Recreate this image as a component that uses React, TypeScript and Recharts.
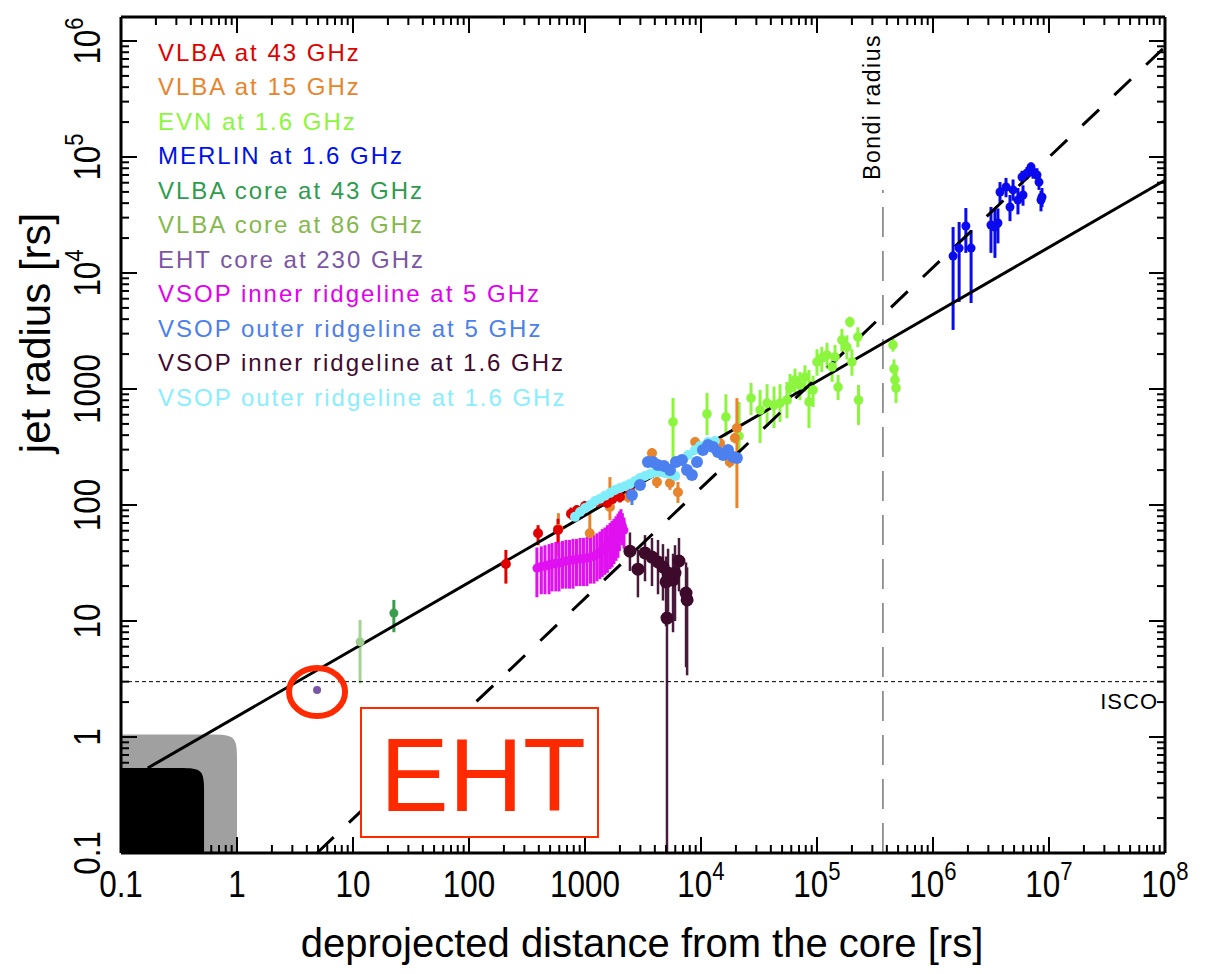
import React from 'react';
import {
  ScatterChart,
  Scatter,
  XAxis,
  YAxis,
  ErrorBar,
  ReferenceLine,
  ReferenceArea,
  ReferenceDot,
} from 'recharts';

// each point: [deprojected distance (rs), jet radius (rs), bar bottom, bar top]
type Pt = number[];

const vlba43: Pt[] = [
  [208, 31, 21, 41], [394, 57, 45, 67], [585, 61, 46, 76], [757, 84, 75, 95],
  [850, 90, 80, 100], [1000, 98, 90, 108], [1295, 106, 96, 117], [1550, 104, 93, 116],
  [1720, 112, 100, 124], [2000, 117, 105, 130], [2440, 132, 118, 147],
];

const vlba15: Pt[] = [
  [590, 62, 36, 85], [1100, 57, 50, 85], [1640, 96, 74, 174], [2350, 117, 105, 130],
  [2860, 164, 150, 180], [3780, 280, 250, 310], [4170, 158, 140, 175], [5400, 155, 135, 175],
  [6330, 129, 104, 158], [8900, 349, 320, 380], [12700, 342, 310, 380], [14600, 341, 310, 380],
  [17700, 235, 210, 260], [19600, 378, 340, 420], [20400, 461, 94, 835],
];

const evn16: Pt[] = [
  [5740, 520, 230, 836], [11270, 609, 401, 925], [16400, 574, 390, 900], [21300, 393, 281, 773],
  [27000, 836, 597, 1127], [32300, 659, 342, 980], [37100, 757, 480, 1100], [42600, 728, 460, 1050],
  [48000, 757, 520, 1100], [55100, 804, 560, 1150], [58500, 1020, 750, 1350], [64600, 1196, 900, 1500],
  [71300, 1082, 800, 1400], [78800, 1268, 950, 1600], [85300, 773, 461, 1459], [92500, 980, 700, 1300],
  [100000, 1710, 1300, 2200], [110000, 1850, 1400, 2300], [122000, 1960, 1500, 2500],
  [135000, 1550, 1150, 2000], [143000, 1890, 1450, 2400], [152000, 1040, 804, 1320],
  [164000, 2640, 2100, 3300], [181000, 2300, 1800, 2900], [192000, 3780, 3400, 4200],
  [200000, 1710, 1300, 2200], [225000, 2810, 2300, 3400], [228000, 804, 490, 1082],
  [452000, 2400, 2100, 2700], [461000, 1490, 1200, 1800], [470000, 1196, 950, 1500],
  [480000, 1020, 760, 1400],
];

const merlin16: Pt[] = [
  [1.49e6, 14000, 3230, 24900], [1.68e6, 16400, 5620, 27500], [1.92e6, 25400, 14900, 36300],
  [2.13e6, 16400, 5510, 23500], [3.16e6, 25900, 14900, 37100], [3.42e6, 24900, 13500, 36000],
  [3.63e6, 27000, 18000, 36000], [3.78e6, 49900, 40100, 60800], [4.26e6, 55100, 45000, 66000],
  [4.61e6, 37100, 28000, 47000], [4.9e6, 52000, 42000, 64000], [5.4e6, 42600, 32000, 54000],
  [5.97e6, 47000, 38000, 57000], [5.85e6, 67300, 58000, 76000], [6.46e6, 72800, 64000, 82000],
  [7.0e6, 82000, 74000, 90000], [7.28e6, 74300, 65000, 83000], [7.88e6, 70000, 60000, 80000],
  [8.2e6, 60800, 52000, 70000], [8.53e6, 42600, 34000, 51000], [8.7e6, 45200, 37000, 54000],
];

const core43: Pt[] = [[22.5, 11.7, 8.0, 15.2]];
const core86: Pt[] = [[11.5, 6.6, 2.9, 10.2]];
const eht230: Pt[] = [[4.9, 2.54, 2.54, 2.54]];

const vsopIn5: Pt[] = [
  [385, 28.6, 16, 43], [420, 29.5, 17, 44], [452, 29.8, 17, 45], [490, 30.5, 17, 46],
  [520, 31, 18, 47], [560, 31.5, 18, 48], [597, 31.6, 18, 48], [640, 32.3, 19, 49],
  [686, 32.9, 19, 50], [735, 33.2, 19, 50], [788, 33.6, 19, 51], [845, 34, 20, 51],
  [906, 34.2, 20, 52], [970, 34.6, 20, 52], [1040, 34.9, 20, 53], [1115, 35.5, 21, 54],
  [1196, 36.3, 21, 55], [1270, 37.8, 22, 57], [1346, 39.3, 23, 59], [1410, 41, 24, 62],
  [1486, 42.6, 25, 64], [1560, 44.8, 26, 67], [1643, 47, 28, 70], [1710, 49.5, 29, 73],
  [1778, 52, 31, 76], [1850, 55, 33, 80], [1923, 58.5, 35, 84], [1980, 64, 40, 88],
  [2042, 71, 48, 92], [2100, 66, 45, 85], [2168, 60.8, 42, 78],
];

const vsopOut5: Pt[] = [
  [2540, 122, 100, 140], [2980, 149, 135, 165], [3490, 235, 215, 255], [3850, 235, 215, 255],
  [4250, 221, 200, 240], [4800, 217, 195, 240], [5400, 200, 180, 220], [6080, 235, 215, 255],
  [6850, 244, 220, 265], [7570, 200, 180, 220], [8350, 181, 165, 200], [9240, 235, 215, 255],
  [10400, 298, 270, 325], [11500, 329, 300, 355], [12700, 316, 290, 345], [14000, 286, 260, 315],
  [15500, 270, 245, 295], [17100, 298, 270, 325], [18900, 259, 235, 285], [20400, 254, 230, 280],
];

const vsopIn16: Pt[] = [
  [2440, 40, 27, 58], [2860, 28, 16, 41], [3290, 38.6, 22, 55], [3780, 35.6, 20, 52],
  [4260, 32.3, 17, 50], [4700, 29.2, 15, 46], [5200, 25.9, 12, 42], [5000, 21.7, 9, 36],
  [5740, 22.6, 8, 38], [5970, 25.9, 10, 45], [6460, 32.9, 18, 52], [5090, 10.6, 0.1, 35],
  [7430, 17.4, 4, 32], [7590, 15.2, 3.4, 29],
];

const vsopOut16: Pt[] = [
  [820, 79, 72, 86], [906, 87, 79, 95], [1000, 94, 86, 103], [1104, 100, 91, 110],
  [1219, 108, 98, 118], [1346, 113, 103, 124], [1486, 120, 109, 131], [1643, 127, 116, 139],
  [1814, 135, 123, 148], [2004, 140, 127, 153], [2213, 145, 132, 159], [2443, 152, 138, 166],
  [2698, 161, 146, 176], [2979, 171, 156, 187], [3289, 178, 162, 195], [3631, 185, 168, 202],
  [4010, 192, 175, 210], [4430, 192, 175, 210], [4895, 189, 172, 207], [5400, 185, 168, 202],
  [6000, 178, 162, 195], [7730, 270, 245, 295], [8870, 298, 272, 325], [9800, 323, 295, 352],
  [11500, 349, 318, 380], [13200, 356, 325, 388],
];

// model lines, read at their two ends
const parabolicFit = [{ x: 0.17, y: 0.54 }, { x: 1e8, y: 6.3e4 }];
const conicalFit = [{ x: 4.9, y: 0.1 }, { x: 1e8, y: 8.9e5 }];
const ISCO = 3;
const BONDI = 3.7e5;
const bondiTop = 5.2e4;

const X_MAJOR = [0.1, 1, 10, 100, 1000, 1e4, 1e5, 1e6, 1e7, 1e8];
const X_LABELS = ['0.1', '1', '10', '100', '1000', '10^4', '10^5', '10^6', '10^7', '10^8'];
const Y_MAJOR = [0.1, 1, 10, 100, 1000, 1e4, 1e5, 1e6];
const Y_LABELS = ['0.1', '1', '10', '100', '1000', '10^4', '10^5', '10^6'];

const LEGEND = [
  ['VLBA at 43 GHz', '#e00000'],
  ['VLBA at 15 GHz', '#e8842c'],
  ['EVN at 1.6 GHz', '#8cf53e'],
  ['MERLIN at 1.6 GHz', '#0010e8'],
  ['VLBA core at 43 GHz', '#2e9c4e'],
  ['VLBA core at 86 GHz', '#84b84c'],
  ['EHT core at 230 GHz', '#7b55a6'],
  ['VSOP inner ridgeline at 5 GHz', '#e000ee'],
  ['VSOP outer ridgeline at 5 GHz', '#4c80ee'],
  ['VSOP inner ridgeline at 1.6 GHz', '#400a30'],
  ['VSOP outer ridgeline at 1.6 GHz', '#88eeff'],
];

const X_DOMAIN = [0.1, 1e8];
const Y_DOMAIN = [0.1, 1.61e6];
const FONT = '"Liberation Sans", Arial, sans-serif';

const minors = (majors: number[]) =>
  majors.slice(0, -1).flatMap((d) => [2, 3, 4, 5, 6, 7, 8, 9].map((m) => m * d));
const X_TICKS = [...X_MAJOR, ...minors(X_MAJOR)];
const Y_TICKS = [...Y_MAJOR, ...minors(Y_MAJOR)];

const rows = (pts: Pt[]) =>
  pts.map(([x, y, lo, hi]) => ({ x, y, err: [y - lo, hi - y] }));

const Num = ({ s }: { s: string }) => {
  const [b, e] = s.split('^');
  return (
    <>
      {b}
      {e ? <tspan dy={-17} fontSize={26}>{e}</tspan> : null}
    </>
  );
};

const BottomTick = (p: any) => {
  const i = X_MAJOR.indexOf(p.payload.value);
  return (
    <g>
      <line x1={p.x} x2={p.x} y1={p.y} y2={p.y - (i >= 0 ? 16 : 8)} stroke="#000" strokeWidth={2} />
      {i >= 0 && (
        <text transform={`translate(${p.x},${p.y + 44}) scale(0.85,1)`} textAnchor="middle" fontFamily={FONT} fontSize={37} fill="#000">
          <Num s={X_LABELS[i]} />
        </text>
      )}
    </g>
  );
};

const TopTick = (p: any) => {
  const major = X_MAJOR.indexOf(p.payload.value) >= 0;
  return <line x1={p.x} x2={p.x} y1={p.y} y2={p.y + (major ? 16 : 8)} stroke="#000" strokeWidth={2} />;
};

const LeftTick = (p: any) => {
  const i = Y_MAJOR.indexOf(p.payload.value);
  return (
    <g>
      <line x1={p.x} x2={p.x + (i >= 0 ? 16 : 8)} y1={p.y} y2={p.y} stroke="#000" strokeWidth={2} />
      {i >= 0 && (
        <text transform={`translate(${p.x - 21},${p.y}) rotate(-90) scale(0.85,1)`} textAnchor="middle" fontFamily={FONT} fontSize={37} fill="#000">
          <Num s={Y_LABELS[i]} />
        </text>
      )}
    </g>
  );
};

const RightTick = (p: any) => {
  const major = Y_MAJOR.indexOf(p.payload.value) >= 0;
  return <line x1={p.x} x2={p.x - (major ? 16 : 8)} y1={p.y} y2={p.y} stroke="#000" strokeWidth={2} />;
};

const dot = (r: number, fill: string) => (p: any) =>
  p.cx == null ? <g /> : <circle cx={p.cx} cy={p.cy} r={r} fill={fill} />;

const roundedCorner = (fill: string, rad: number) => (p: any) => {
  const { x, y, width: w, height: h } = p;
  const d = `M${x},${y + h} L${x},${y} L${x + w - rad},${y} C${x + w - 2},${y} ${x + w},${y + 2} ${x + w},${y + rad} L${x + w},${y + h} Z`;
  return <path d={d} fill={fill} />;
};

const ehtRing = (p: any) => (
  <ellipse cx={p.cx} cy={p.cy + 2} rx={28} ry={24} fill="none" stroke="#ff2a00" strokeWidth={6} />
);

const axisLine = { stroke: '#000', strokeWidth: 3 };

type S = { data: Pt[]; color: string; bar: string; r: number; bw: number; bars?: boolean };

const SERIES: S[] = [
  { data: evn16, color: '#8cf53e', bar: '#8cf53e', r: 4.8, bw: 3 },
  { data: vlba15, color: '#e8842c', bar: '#e8842c', r: 5, bw: 3 },
  { data: vlba43, color: '#e00000', bar: '#e00000', r: 5, bw: 3 },
  { data: vsopIn5, color: '#e010f0', bar: '#e010f0', r: 4.5, bw: 3 },
  { data: vsopIn16, color: '#3d0a2c', bar: '#4a1a3c', r: 6.5, bw: 2.5 },
  { data: vsopOut16, color: '#80eefa', bar: '#80eefa', r: 5, bw: 2.5 },
  { data: vsopOut5, color: '#4c80ee', bar: '#4c80ee', r: 6, bw: 3 },
  { data: merlin16, color: '#0a0aee', bar: '#0a0aee', r: 4.5, bw: 3 },
  { data: core43, color: '#3a9c4e', bar: '#3a9c4e', r: 4.5, bw: 3 },
  { data: core86, color: '#9dcc8c', bar: '#a6d296', r: 4.5, bw: 3 },
  { data: eht230, color: '#7b55a6', bar: '#7b55a6', r: 4, bw: 0, bars: false },
];

export default function App() {
  return (
    <div style={{ position: 'absolute', left: 0, top: 0, width: 1221, height: 974, background: '#fff' }}>
      <ScatterChart width={1221} height={974} margin={{ top: 16, right: 55, bottom: 0, left: 0 }}>
        <XAxis xAxisId="b" orientation="bottom" type="number" dataKey="x" scale="log" domain={X_DOMAIN} allowDataOverflow
          ticks={X_TICKS} interval={0} tickLine={false} tickSize={0} tickMargin={0} height={121} axisLine={axisLine} tick={<BottomTick />} />
        <XAxis xAxisId="t" orientation="top" type="number" dataKey="x" scale="log" domain={X_DOMAIN} allowDataOverflow
          ticks={X_TICKS} interval={0} tickLine={false} tickSize={0} tickMargin={0} height={1} axisLine={axisLine} tick={<TopTick />} />
        <YAxis yAxisId="l" orientation="left" type="number" dataKey="y" scale="log" domain={Y_DOMAIN} allowDataOverflow
          ticks={Y_TICKS} interval={0} tickLine={false} tickSize={0} tickMargin={0} width={121} axisLine={axisLine} tick={<LeftTick />} />
        <YAxis yAxisId="r" orientation="right" type="number" dataKey="y" scale="log" domain={Y_DOMAIN} allowDataOverflow
          ticks={Y_TICKS} interval={0} tickLine={false} tickSize={0} tickMargin={0} width={1} axisLine={axisLine} tick={<RightTick />} />

        <ReferenceArea xAxisId="b" yAxisId="l" x1={0.1} x2={1} y1={0.1} y2={1.05} shape={roundedCorner('#a0a0a0', 26)} />
        <ReferenceArea xAxisId="b" yAxisId="l" x1={0.1} x2={0.52} y1={0.1} y2={0.54} shape={roundedCorner('#000', 24)} />

        <Scatter xAxisId="t" yAxisId="r" data={[]} isAnimationActive={false} />

        {SERIES.map((s, i) => (
          <Scatter key={i} xAxisId="b" yAxisId="l" data={rows(s.data)} isAnimationActive={false} shape={dot(s.r, s.color)}>
            {s.bars !== false && (
              <ErrorBar dataKey="err" direction="y" width={0} stroke={s.bar} strokeWidth={s.bw} isAnimationActive={false} />
            )}
          </Scatter>
        ))}

        <ReferenceLine xAxisId="b" yAxisId="l" y={ISCO} stroke="#000" strokeWidth={1} strokeDasharray="4 3" />
        <ReferenceLine xAxisId="b" yAxisId="l" segment={[{ x: BONDI, y: 0.1 }, { x: BONDI, y: bondiTop }]} stroke="#777" strokeWidth={1.5} strokeDasharray="30 14" />
        <ReferenceLine xAxisId="b" yAxisId="l" segment={parabolicFit} stroke="#000" strokeWidth={3} />
        <ReferenceLine xAxisId="b" yAxisId="l" segment={conicalFit} stroke="#000" strokeWidth={3} strokeDasharray="23 21" />
        <ReferenceDot xAxisId="b" yAxisId="l" x={eht230[0][0]} y={eht230[0][1]} shape={ehtRing} />
      </ScatterChart>

      <svg width={1221} height={974} style={{ position: 'absolute', left: 0, top: 0, pointerEvents: 'none' }}>
        {LEGEND.map(([name, color], i) => (
          <text key={name} x={158} y={60.5 + i * 34.5} fill={color} fontFamily={FONT} fontSize={24} letterSpacing={2}>
            {name}
          </text>
        ))}
        <text x={642} y={957} textAnchor="middle" fontFamily={FONT} fontSize={40} fill="#000">
          deprojected distance from the core [rs]
        </text>
        <text transform="translate(50,333) rotate(-90)" textAnchor="middle" fontFamily={FONT} fontSize={42} fill="#000">
          jet radius [rs]
        </text>
        <text transform="translate(880,107) rotate(-90)" textAnchor="middle" fontFamily={FONT} fontSize={23} letterSpacing={1.5} fill="#000">
          Bondi radius
        </text>
        <text x={1158} y={709} textAnchor="end" fontFamily={FONT} fontSize={22} letterSpacing={1} fill="#000">
          ISCO
        </text>
        <rect x={361} y={708} width={237} height={129} fill="#fff" stroke="#ff2a00" strokeWidth={2} />
        <text x={483} y={811} textAnchor="middle" fontFamily={FONT} fontSize={103} fill="#ff2a00">
          EHT
        </text>
      </svg>
    </div>
  );
}
